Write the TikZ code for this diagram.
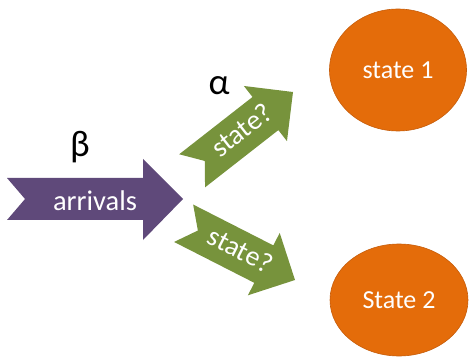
\documentclass[tikz,border=0pt]{standalone}
\usepackage{fontspec}
\setmainfont{Carlito}
\usetikzlibrary{shapes.geometric}
\definecolor{arrpurple}{HTML}{5F497A}
\definecolor{arrgreen}{HTML}{77933C}
\definecolor{stateorange}{HTML}{E46C0A}
\definecolor{stateedge}{HTML}{C65D0A}
\tikzset{
  label text/.style={text=white, font=\fontsize{28.5}{32}\selectfont, inner sep=0pt},
  branch text/.style={text=white, font=\fontsize{28}{32}\selectfont, inner sep=0pt},
  greek/.style={text=black, font=\fontsize{37}{40}\selectfont, inner sep=0pt},
  state/.style={ellipse, fill=stateorange, draw=stateedge, line width=0.6pt,
    inner sep=0pt, text=white, font=\fontsize{26}{30}\selectfont},
}
\begin{document}
\begin{tikzpicture}[x=1pt, y=-1pt]
  \useasboundingbox (0,0) rectangle (471,358);

  % incoming flow: notched arrow
  \fill[arrpurple] (7,178) -- (143,178) -- (143,159) -- (183,199) -- (143,240)
    -- (143,220) -- (7,220) -- (25,199) -- cycle;
  \node[label text] (arrivals) at (95,201) {arrivals};
  \node[greek] (beta) at (80,147) {β};

  % upper branch
  \begin{scope}[shift={(293,92)}, rotate=38]
    \fill[arrgreen] (0,0) -- (-35,35) -- (-35,21) -- (-128,21) -- (-112,0)
      -- (-128,-21) -- (-35,-21) -- (-35,-35) -- cycle;
    \node[branch text, transform shape] (qup) at (-64,-2) {state?};
  \end{scope}
  \node[greek] (alpha) at (219,86) {α};

  % lower branch
  \begin{scope}[shift={(295,280)}, rotate=-27]
    \fill[arrgreen] (0,0) -- (-35,35) -- (-35,21) -- (-125,21) -- (-109,0)
      -- (-125,-21) -- (-35,-21) -- (-35,-35) -- cycle;
    \node[branch text, transform shape] (qdown) at (-62,-2) {state?};
  \end{scope}

  % states
  \node[state, minimum width=137pt, minimum height=122pt] (s1) at (398,70) {state 1};
  \node[state, minimum width=138pt, minimum height=112pt] (s2) at (399,300) {State 2};
\end{tikzpicture}
\end{document}
